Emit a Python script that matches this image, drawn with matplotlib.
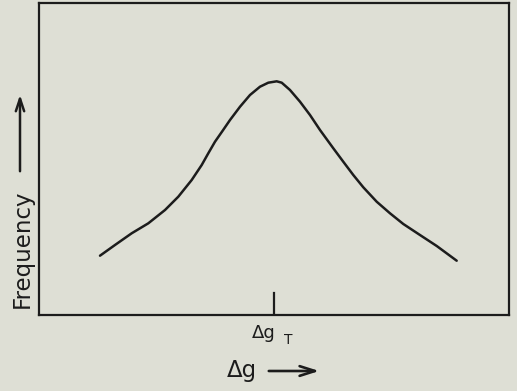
import matplotlib
matplotlib.use("Agg")
import matplotlib.pyplot as plt
from matplotlib.patches import FancyArrowPatch

# curve (x: arbitrary delta-g units 0..100, y: frequency 0..100)
dg = [12.98, 16.17, 19.72, 23.26, 26.81, 29.64, 32.49, 34.62, 36.02, 37.45,
      39.0, 40.64, 42.77, 44.89, 47.02, 48.79, 50.57, 51.64, 53.40, 55.53,
      57.66, 59.79, 62.62, 64.74, 66.87, 69.0, 71.85, 74.68, 77.51, 81.06,
      84.62, 88.87]
freq = [19.01, 22.44, 26.19, 29.39, 33.65, 37.92, 43.27, 48.08, 51.83, 55.55,
        58.9, 62.5, 66.76, 70.51, 73.17, 74.46, 74.9, 74.46, 72.12, 68.37,
        64.10, 59.29, 53.43, 49.13, 44.87, 40.93, 36.31, 32.60, 29.17, 25.64,
        22.12, 17.40]
dg_t = 50.0
tick_len = 7.0

bg = '#dedfd5'
ink = '#1c1c1c'

fig = plt.figure(figsize=(5.17, 3.91), dpi=100, facecolor=bg)
ax = fig.add_axes([39 / 517, 76 / 391, 470 / 517, 312 / 391])
ax.set_facecolor(bg)

ax.plot(dg, freq, color=ink, lw=1.8, solid_capstyle='round', solid_joinstyle='round')
# the single marked position on the x axis
ax.plot([dg_t, dg_t], [0, tick_len], color=ink, lw=1.6)

ax.set_xlim(0, 100)
ax.set_ylim(0, 100)
ax.set_xticks([])
ax.set_yticks([])
for s in ax.spines.values():
    s.set_linewidth(1.6)
    s.set_color(ink)

# axis labels with arrows
fig.text(22 / 517, 1 - 249 / 391, 'Frequency', rotation=90, ha='center', va='center',
         fontsize=16.5, color=ink)
fig.patches.append(FancyArrowPatch(
    (20 / 517, 1 - 174 / 391), (20 / 517, 1 - 92 / 391), transform=fig.transFigure,
    arrowstyle='->,head_length=9,head_width=3', mutation_scale=1, color=ink, lw=1.8))

fig.text(242 / 517, 1 - 371 / 391, 'Δg', ha='center', va='center', fontsize=16.5, color=ink)
fig.patches.append(FancyArrowPatch(
    (266 / 517, 1 - 371 / 391), (322 / 517, 1 - 371 / 391), transform=fig.transFigure,
    arrowstyle='->,head_length=11,head_width=3.5', mutation_scale=1, color=ink, lw=1.9))

fig.text(264 / 517, 1 - 333 / 391, 'Δg', ha='center', va='center', fontsize=13, color=ink)
fig.text(288 / 517, 1 - 340 / 391, 'T', ha='center', va='center', fontsize=10, color=ink)

fig.savefig('out.png', dpi=100, facecolor=bg)
